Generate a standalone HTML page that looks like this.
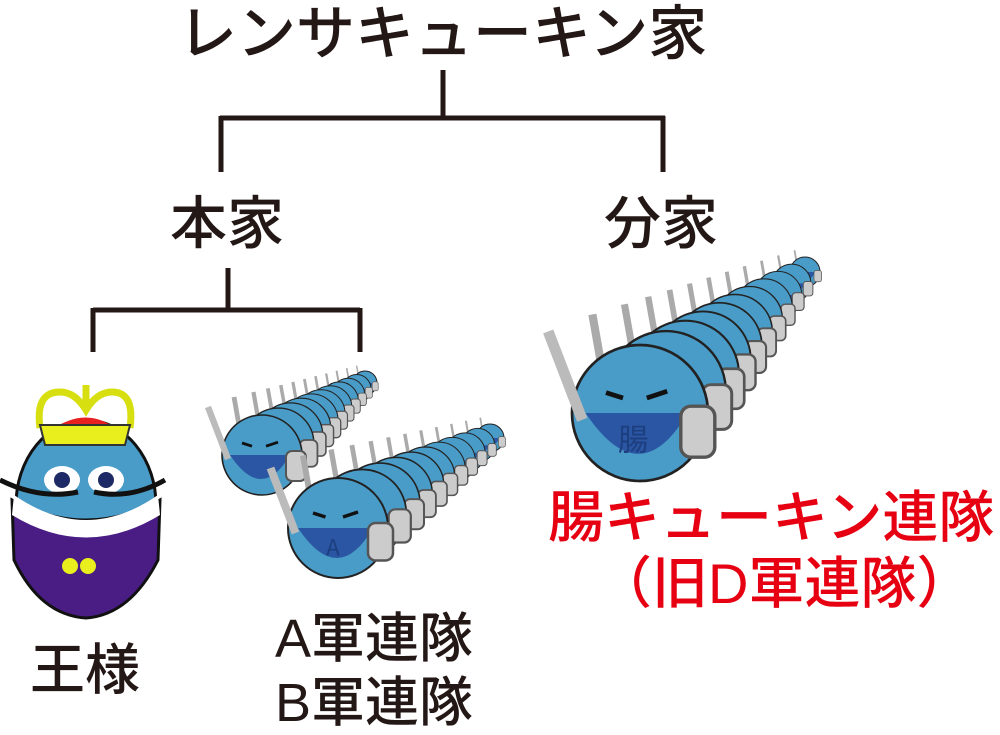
<!DOCTYPE html>
<html><head><meta charset="utf-8"><style>
body{margin:0;width:1000px;height:735px;background:#fff;overflow:hidden;position:relative;font-family:"Liberation Sans","Noto Sans CJK JP",sans-serif}
.t{position:absolute;white-space:nowrap;color:#231815;line-height:1;font-weight:500}
</style></head><body>
<svg id="s" width="1000" height="735" style="position:absolute;left:0;top:0">
<g stroke="#231815" stroke-width="5" fill="none">
<path d="M443 70V118M220 118H665M221 116V172M663 116V172"/>
<path d="M228 268V310M93 310H360M93 308V352M360 308V352"/>
</g>
<g id="soldiers"></g>
<ellipse cx="86" cy="505" rx="70" ry="85" fill="#4a9cc8" stroke="#111" stroke-width="3"/>
<path d="M12 500 Q86 540 160 500 L158 560 Q130 615 86 618 Q40 615 14 560Z" fill="#4a1d85" stroke="#111" stroke-width="3"/>
<path d="M14 495 Q86 545 158 495 L160 515 Q86 560 12 515Z" fill="#fff"/>
<circle cx="70" cy="566" r="8" fill="#e8ef1c"/><circle cx="88" cy="566" r="8" fill="#e8ef1c"/>
<ellipse cx="62" cy="480" rx="18" ry="14" fill="#fff"/><ellipse cx="106" cy="480" rx="18" ry="14" fill="#fff"/>
<circle cx="62" cy="480" r="8" fill="#1d2a66"/><circle cx="106" cy="480" r="8" fill="#1d2a66"/>
<path d="M0 480 Q40 500 78 492 M94 492 Q130 500 165 480" stroke="#111" stroke-width="5" fill="none"/>
<path d="M52 430 Q86 405 118 430Z" fill="#e82020"/>
<path d="M40 428 Q35 392 60 392 Q75 392 86 410 Q97 392 112 392 Q135 392 130 428" stroke="#d8df10" stroke-width="7" fill="none"/>
<path d="M86 410 V385" stroke="#d8df10" stroke-width="7"/>
<path d="M40 425 L130 425 L125 445 L45 445Z" fill="#e8ef1c" stroke="#333" stroke-width="2"/>
</svg>
<div class="t" style="left:178px;top:5px;font-size:59px">レンサキューキン家</div>
<div class="t" style="left:170px;top:196px;font-size:57px">本家</div>
<div class="t" style="left:604px;top:196px;font-size:57px">分家</div>
<div class="t" style="left:30px;top:643px;font-size:55px">王様</div>
<div class="t" style="left:275px;top:612px;font-size:54px">A軍連隊</div>
<div class="t" style="left:275px;top:676px;font-size:54px">B軍連隊</div>
<div class="t" style="left:548px;top:490px;font-size:56px;color:#e60012">腸キューキン連隊</div>
<div class="t" style="left:596px;top:556px;font-size:56px;color:#e60012">（旧D軍連隊）</div>
<script>
var g=document.getElementById('soldiers'),h='';
function col(x0,y0,r0,x1,y1,r1,n,label){
 for(var i=n-1;i>=0;i--){var f=Math.pow(i/(n-1),0.8);var x=x0+(x1-x0)*f,y=y0+(y1-y0)*f,r=r0+(r1-r0)*f;
  h+='<line x1="'+(x-r*0.55)+'" y1="'+(y-r*0.6)+'" x2="'+(x-r*0.7)+'" y2="'+(y-r*1.45)+'" stroke="#aaa" stroke-width="'+(r*0.12)+'"/>';
  h+='<circle cx="'+x+'" cy="'+y+'" r="'+r+'" fill="#4a9cc8" stroke="#222" stroke-width="'+Math.max(1,r*0.04)+'"/>';
  h+='<path d="M'+(x-r*0.8)+' '+(y)+' Q'+x+' '+(y+r*1.2)+' '+(x+r*0.7)+' '+y+'Z" fill="#2a56a3"/>';
  h+='<rect x="'+(x+r*0.6)+'" y="'+(y-r*0.1)+'" width="'+(r*0.5)+'" height="'+(r*0.75)+'" rx="'+(r*0.15)+'" fill="#ccc" stroke="#555" stroke-width="'+(r*0.05)+'"/>';}
 h+='<line x1="'+(x0-r0*0.85)+'" y1="'+(y0+r0*0.1)+'" x2="'+(x0-r0*1.35)+'" y2="'+(y0-r0*1.2)+'" stroke="#bbb" stroke-width="'+(r0*0.16)+'"/>';
 h+='<path d="M'+(x0-r0*0.5)+' '+(y0-r0*0.3)+' l'+(r0*0.25)+' '+(r0*0.08)+' M'+(x0+r0*0.1)+' '+(y0-r0*0.22)+' l'+(r0*0.3)+' -'+(r0*0.1)+'" stroke="#111" stroke-width="'+(r0*0.07)+'"/>';
 if(label)h+='<text x="'+(x0-r0*0.1)+'" y="'+(y0+r0*0.55)+'" font-size="'+(r0*0.45)+'" fill="#1d3f80" text-anchor="middle" font-family="Noto Sans CJK JP">'+label+'</text>';
}
col(262,455,40,365,383,12,11,'');
col(338,528,50,490,438,14,11,'A');
col(640,413,68,805,272,15,11,'腸');
g.innerHTML=h;
</script>
</body></html>
